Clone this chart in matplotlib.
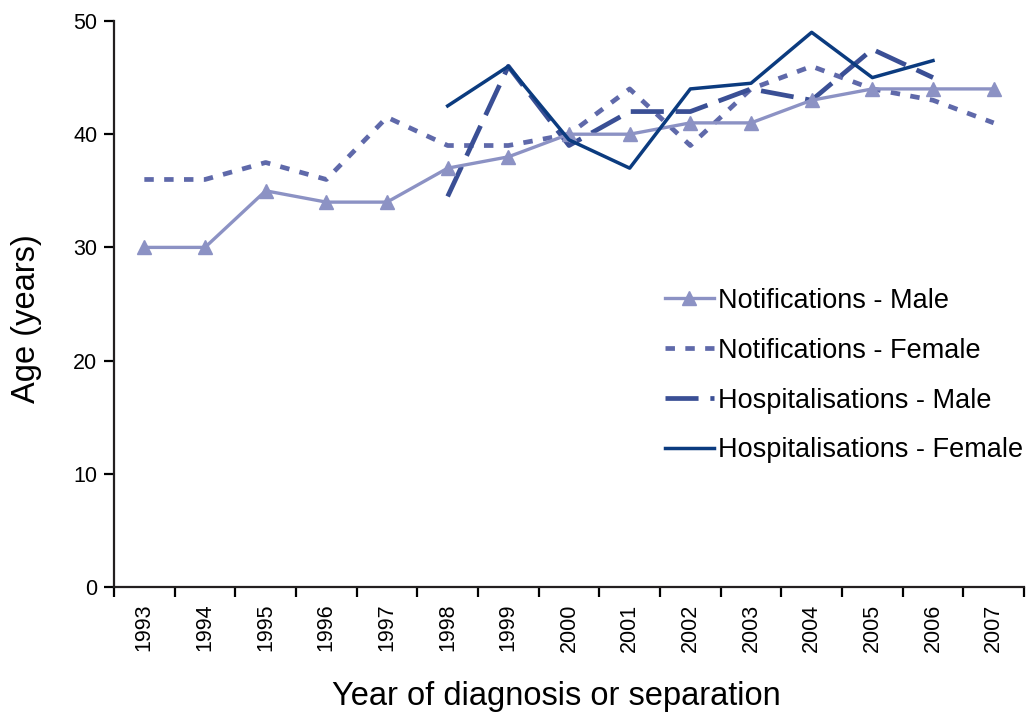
import numpy as np
import matplotlib
matplotlib.use("Agg")
import matplotlib.pyplot as plt
from matplotlib.ticker import FixedLocator

matplotlib.rcParams['font.family'] = ['Liberation Sans', 'DejaVu Sans']

# Median age by year
years = [str(y) for y in range(1993, 2008)]
notif_male = [30, 30, 35, 34, 34, 37, 38, 40, 40, 41, 41, 43, 44, 44, 44]
notif_female = [36, 36, 37.5, 36, 41.5, 39, 39, 40, 44, 39, 44, 46, 44, 43, 41]
# hospital separations only available 1998-2006
hosp_years = [str(y) for y in range(1998, 2007)]
hosp_male = [34.5, 46, 39, 42, 42, 44, 43, 47.5, 45]
hosp_female = [42.5, 46, 39.5, 37, 44, 44.5, 49, 45, 46.5]

fig = plt.figure(figsize=(10.32, 7.16), dpi=100)
ax = fig.add_axes([114 / 1032, 1 - 587 / 716, (1024 - 114) / 1032, (587 - 21) / 716])

x = np.arange(len(years))
hx = np.array([years.index(y) for y in hosp_years])

ax.plot(x, notif_male, color='#8c92c4', lw=2.4, marker='^', ms=10,
        label='Notifications - Male', zorder=3)
ax.plot(x, notif_female, color='#5f69aa', lw=3.4, dashes=(2.0, 2.2),
        label='Notifications - Female', zorder=2)
ax.plot(hx, hosp_male, color='#3a4f95', lw=3.4, dashes=(7, 2.5),
        label='Hospitalisations - Male', zorder=2)
ax.plot(hx, hosp_female, color='#0b3b7f', lw=2.5,
        label='Hospitalisations - Female', zorder=4)

ax.set_xlim(-0.5, len(years) - 0.5)
ax.set_ylim(0, 50)
ax.set_yticks(range(0, 51, 10))
ax.tick_params(axis='y', labelsize=15.5, length=7, width=1.6, direction='out', pad=5)

# category ticks on boundaries, labels at centres
ax.xaxis.set_major_locator(FixedLocator(np.arange(-0.5, len(years), 1.0)))
ax.xaxis.set_major_formatter(plt.NullFormatter())
ax.xaxis.set_minor_locator(FixedLocator(x))
ax.set_xticklabels(years, minor=True, rotation=90, fontsize=15.5)
ax.tick_params(axis='x', which='major', length=7, width=1.6, direction='out')
ax.tick_params(axis='x', which='minor', length=0, pad=12)

for side in ['top', 'right']:
    ax.spines[side].set_visible(False)
for side in ['left', 'bottom']:
    ax.spines[side].set_linewidth(1.6)
    ax.spines[side].set_color('#231f20')

ax.set_ylabel('Age (years)', fontsize=23.5)
ax.set_xlabel('Year of diagnosis or separation', fontsize=23.5)
ax.yaxis.set_label_coords(-0.079, 0.475)
ax.xaxis.set_label_coords(0.486, -0.166)

ax.legend(loc='upper left', bbox_to_anchor=(654 / 1032, 1 - 277 / 716),
          bbox_transform=fig.transFigure, frameon=False, fontsize=19.5,
          handlelength=1.8, handletextpad=0.15, labelspacing=0.88, borderaxespad=0)

fig.savefig('out.png', dpi=100)
